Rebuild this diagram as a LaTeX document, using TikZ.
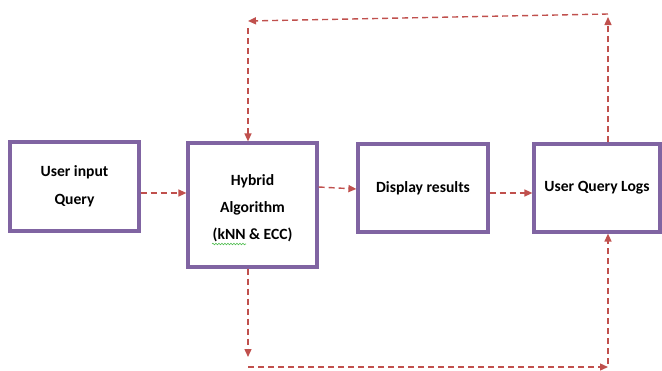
\documentclass[tikz,border=0pt]{standalone}
\usepackage{fontspec}
\setmainfont{Carlito}
\usetikzlibrary{arrows.meta,decorations.pathmorphing}
\definecolor{boxline}{RGB}{128,100,162}
\definecolor{flow}{RGB}{192,80,77}
\definecolor{spell}{RGB}{80,190,80}

\begin{document}
\begin{tikzpicture}[x=1pt,y=-1pt,
    stage/.style={draw=boxline,line width=3.2pt,fill=white,align=center,
      font=\fontsize{15.6}{28}\selectfont\bfseries,inner sep=0pt},
    stagetext/.style={align=center,font=\fontsize{15.6}{27}\selectfont\bfseries,inner sep=0pt},
    link/.style={draw=flow,line width=1.4pt,dash pattern=on 6pt off 4pt,
      -{Triangle[length=8pt,width=7pt]}}]
    \useasboundingbox (0,0) rectangle (662,370);
    % the four stages
    \node[stage,minimum width=129pt,minimum height=89pt] (input) at (74.5,186.5) {User input\\Query};
    \node[stage,minimum width=129pt,minimum height=124pt] (hybrid) at (252.5,205) {};
    \node[stagetext] (hybridtext) at (252.5,208) {Hybrid\\Algorithm\\(kNN \& ECC)};
    \node[stage,minimum width=130pt,minimum height=88pt] (display) at (423,188) {Display results};
    \node[stage,minimum width=126pt,minimum height=88pt] (logs) at (597,188) {User Query Logs};
    % spell check mark under kNN
    \draw[spell,line width=.6pt,decorate,decoration={snake,amplitude=.8pt,segment length=3pt}] (212,244) -- (246,244);
    % main flow
    \draw[link] (input.east |- 0,193) -- (hybrid.west |- 0,193);
    \draw[link] (hybrid.east |- 0,187) -- (display.west |- 0,189);
    \draw[link] (display.east |- 0,193) -- (logs.west |- 0,193);
    % feedback over the top
    \coordinate (topR) at (608,14);
    \coordinate (topL) at (248,21);
    \draw[link] (608,0 |- logs.north) -- (608,17);
    \draw[link] (topR) -- (topL);
    \draw[link] (248,28) -- (248,0 |- hybrid.north);
    % feedback below
    \coordinate (botL) at (248,367);
    \coordinate (botR) at (608,367);
    \draw[link] (248,0 |- hybrid.south) -- (248,357);
    \draw[link] (botL) -- (botR);
    \draw[link] (608,364) -- (608,0 |- logs.south);
\end{tikzpicture}
\end{document}
